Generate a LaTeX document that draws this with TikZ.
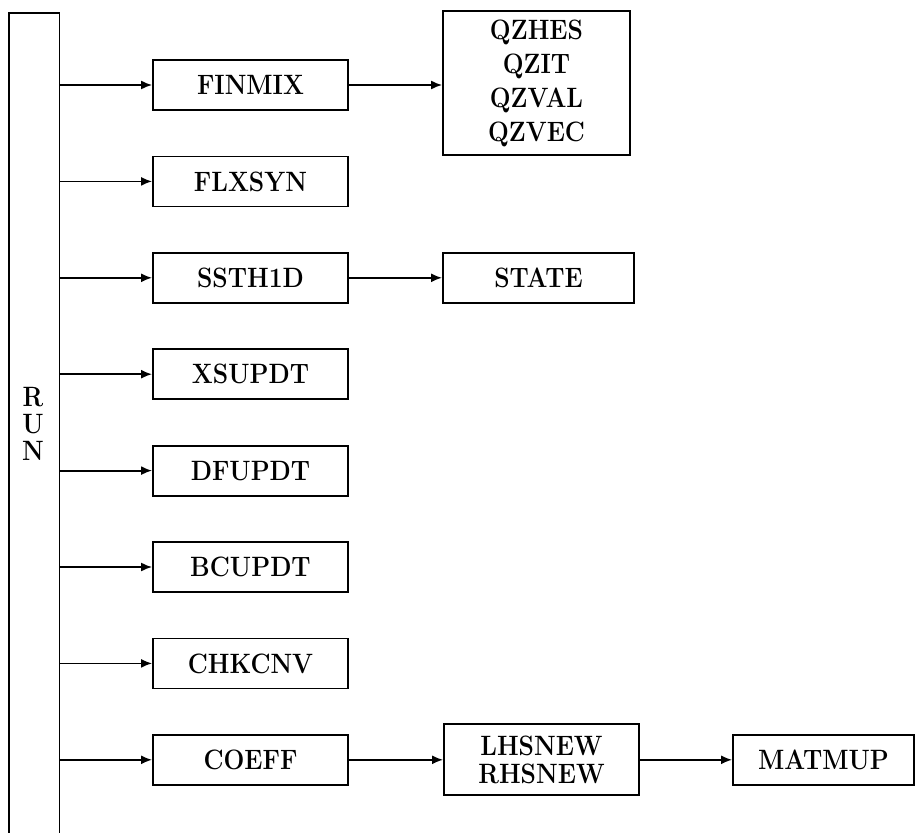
\documentclass[tikz,border=0pt]{standalone}
\usetikzlibrary{arrows.meta}
\begin{document}
\begin{tikzpicture}[x=1pt,y=-1pt,
  lbl/.style={font=\fontsize{28}{34}\bfseries\selectfont},
  box/.style={draw,line width=1.8pt,inner sep=0pt,align=center,lbl},
  arr/.style={line width=1.8pt,-{Latex[length=11pt,width=9pt]}},
  ]
\useasboundingbox (0,0) rectangle (917,832);
\newcommand{\nx}[1]{\scalebox{0.88}[1]{#1}}
% RUN column
\node[inner sep=0pt,minimum width=50pt,minimum height=840pt,anchor=north west] (run) at (9,13) {};
\draw[line width=1.8pt] (run.south west) -- (run.north west) -- (run.north east) -- (run.south east);
\node[lbl,align=center,font=\fontsize{28}{27}\bfseries\selectfont] (runtxt) at (33,424) {\nx{R}\\\nx{U}\\\nx{N}};
% left column
\foreach \nm/\txt/\yy in {finmix/FINMIX/85, flxsyn/FLXSYN/181.4, ssth/SSTH1D/277.8, xsup/XSUPDT/374.2, dfup/DFUPDT/470.6, bcup/BCUPDT/567, chk/CHKCNV/663.4, coeff/COEFF/759.8}{
  \node[box,minimum width=195pt,minimum height=50pt] (\nm) at (250.5,\yy) {\nx{\txt}};
  \draw[arr] (run.east |- \nm.west) -- (\nm.west);
}
% right boxes
\node[box,minimum width=187pt,minimum height=144pt,font=\fontsize{28}{34}\bfseries\selectfont] (qz) at (536.5,83) {\nx{QZHES}\\\nx{QZIT}\\\nx{QZVAL}\\\nx{QZVEC}};
\node[box,minimum width=191pt,minimum height=50pt] (state) at (538.5,277.8) {\nx{STATE}};
\node[box,minimum width=195pt,minimum height=71pt,font=\fontsize{28}{28}\bfseries\selectfont] (lhs) at (541.5,759.8) {\nx{LHSNEW}\\\nx{RHSNEW}};
\node[box,minimum width=181pt,minimum height=50pt] (mat) at (823.5,759.8) {\nx{MATMUP}};
\draw[arr] (finmix.east) -- (qz.west |- finmix.east);
\draw[arr] (ssth.east) -- (state.west);
\draw[arr] (coeff.east) -- (lhs.west);
\draw[arr] (lhs.east) -- (mat.west);
\end{tikzpicture}
\end{document}
